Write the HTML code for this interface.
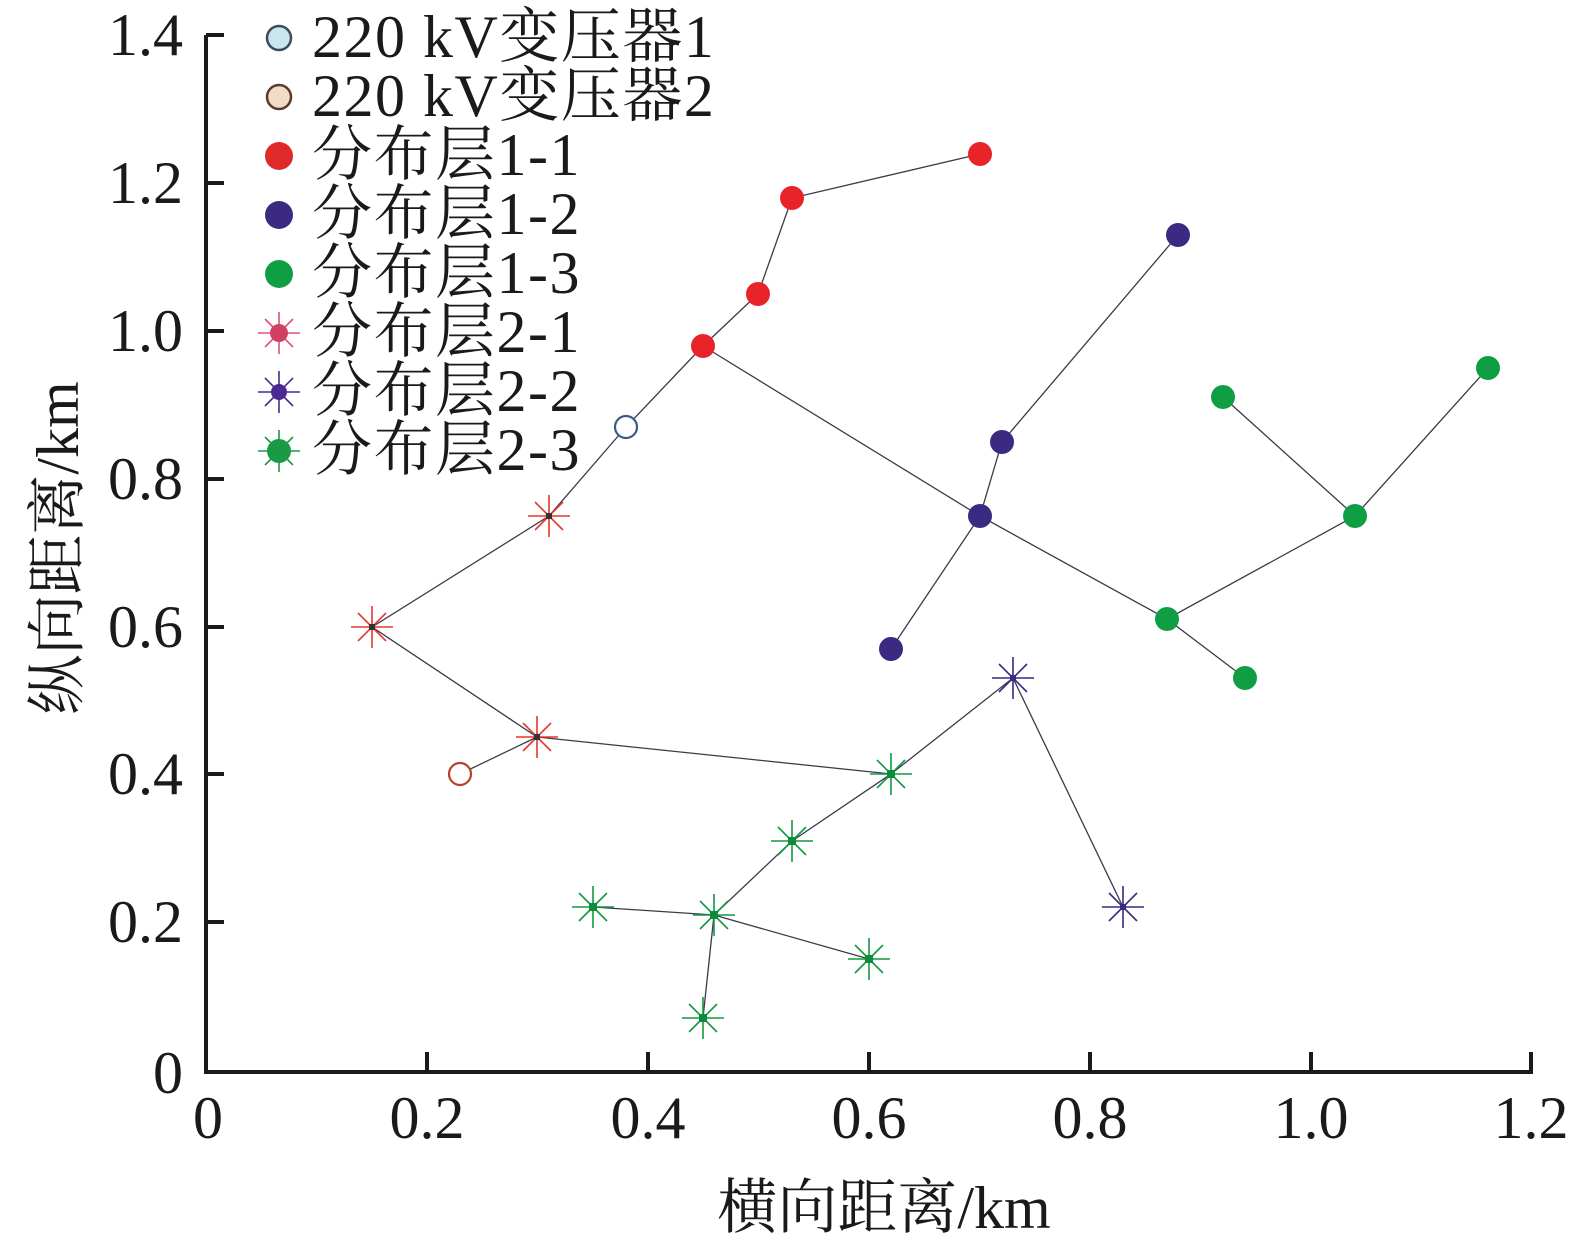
<!DOCTYPE html>
<html><head><meta charset="utf-8"><style>
html,body{margin:0;padding:0;background:#fff;}
svg{display:block;}
text{font-family:"Liberation Serif","Noto Serif CJK SC",serif;fill:#1a1a1a;}
</style></head><body>
<svg width="1583" height="1242" viewBox="0 0 1583 1242" xmlns="http://www.w3.org/2000/svg">
<defs>
<g id="st" stroke-width="1.6">
<line x1="-21" y1="0" x2="21" y2="0"/><line x1="0" y1="-21" x2="0" y2="21"/>
<line x1="-14" y1="-14" x2="14" y2="14"/><line x1="-14" y1="14" x2="14" y2="-14"/>
</g>
</defs>
<g stroke="#1a1a1a" stroke-width="4" fill="none">
<polyline points="206,35 206,1072 1533,1072"/>
<line x1="206" y1="35" x2="224" y2="35"/>
<line x1="206" y1="183" x2="224" y2="183"/>
<line x1="206" y1="331" x2="224" y2="331"/>
<line x1="206" y1="479" x2="224" y2="479"/>
<line x1="206" y1="627" x2="224" y2="627"/>
<line x1="206" y1="774" x2="224" y2="774"/>
<line x1="206" y1="922" x2="224" y2="922"/>
<line x1="427" y1="1072" x2="427" y2="1052"/>
<line x1="648" y1="1072" x2="648" y2="1052"/>
<line x1="869" y1="1072" x2="869" y2="1052"/>
<line x1="1090" y1="1072" x2="1090" y2="1052"/>
<line x1="1311" y1="1072" x2="1311" y2="1052"/>
<line x1="1531" y1="1072" x2="1531" y2="1052"/>
</g>
<g font-size="60" text-anchor="end">
<text x="183" y="55">1.4</text>
<text x="183" y="203">1.2</text>
<text x="183" y="351">1.0</text>
<text x="183" y="499">0.8</text>
<text x="183" y="647">0.6</text>
<text x="183" y="794">0.4</text>
<text x="183" y="942">0.2</text>
<text x="183" y="1093">0</text>
</g>
<g font-size="60" text-anchor="middle">
<text x="208" y="1138">0</text>
<text x="427" y="1138">0.2</text>
<text x="648" y="1138">0.4</text>
<text x="869" y="1138">0.6</text>
<text x="1090" y="1138">0.8</text>
<text x="1311" y="1138">1.0</text>
<text x="1531" y="1138">1.2</text>
<text x="884" y="1228">横向距离/km</text>
<text transform="translate(78,548) rotate(-90)">纵向距离/km</text>
</g>
<g stroke="#3a3a4a" stroke-width="1.3" fill="none">
<polyline points="980,154 792,198 758,294 703,346 626,427 549,516 372,627 537,737 460,774"/>
<polyline points="537,737 891,774 1013,678 1123,907"/>
<polyline points="891,774 792,841 714,915 593,907"/>
<polyline points="714,915 869,959"/>
<polyline points="714,915 703,1018"/>
<polyline points="703,346 980,516 1167,619 1355,516 1488,368"/>
<polyline points="1167,619 1245,678"/>
<polyline points="1223,397 1355,516"/>
<polyline points="1178,235 1002,442 980,516 891,649"/>
</g>
<g fill="#e8232a">
<circle cx="980" cy="154" r="12"/><circle cx="792" cy="198" r="12"/><circle cx="758" cy="294" r="12"/><circle cx="703" cy="346" r="12"/>
</g>
<g fill="#3a2a82">
<circle cx="1178" cy="235" r="12"/><circle cx="1002" cy="442" r="12"/><circle cx="980" cy="516" r="12"/><circle cx="891" cy="649" r="12"/>
</g>
<g fill="#0f9e44">
<circle cx="1488" cy="368" r="12"/><circle cx="1223" cy="397" r="12"/><circle cx="1355" cy="516" r="12"/><circle cx="1167" cy="619" r="12"/><circle cx="1245" cy="678" r="12"/>
</g>
<circle cx="626" cy="427" r="11" fill="#fff" stroke="#3d5a86" stroke-width="2.2"/>
<circle cx="460" cy="774" r="11" fill="#fff" stroke="#b8402a" stroke-width="2.2"/>
<g stroke="#e8362a">
<use href="#st" x="549" y="516"/><use href="#st" x="372" y="627"/><use href="#st" x="537" y="737"/>
</g>
<g fill="#333"><rect x="546" y="513" width="6" height="6"/><rect x="369" y="624" width="6" height="6"/><rect x="534" y="734" width="6" height="6"/></g>
<g stroke="#3a2a82">
<use href="#st" x="1013" y="678"/><use href="#st" x="1123" y="907"/>
</g>
<g fill="#3a2a82"><rect x="1010" y="675" width="6" height="6"/><rect x="1120" y="904" width="6" height="6"/></g>
<g stroke="#109a42">
<use href="#st" x="891" y="774"/><use href="#st" x="792" y="841"/><use href="#st" x="593" y="907"/><use href="#st" x="714" y="915"/><use href="#st" x="869" y="959"/><use href="#st" x="703" y="1018"/>
</g>
<g fill="#0f8a3c"><rect x="887" y="770" width="8" height="8"/><rect x="788" y="837" width="8" height="8"/><rect x="589" y="903" width="8" height="8"/><rect x="710" y="911" width="8" height="8"/><rect x="865" y="955" width="8" height="8"/><rect x="699" y="1014" width="8" height="8"/></g>
<circle cx="279" cy="38" r="12" fill="#c8e6ef" stroke="#3c4a5a" stroke-width="2.5"/>
<circle cx="279" cy="97" r="12" fill="#f2dcc8" stroke="#5a3a2a" stroke-width="2.5"/>
<circle cx="279" cy="156" r="14" fill="#e02a2a"/>
<circle cx="279" cy="215" r="14" fill="#3a2a82"/>
<circle cx="279" cy="274" r="14" fill="#0f9e44"/>
<g stroke="#e0507a" stroke-width="3.5"><use href="#st" x="279" y="333"/></g>
<g stroke="#4a2a92" stroke-width="3.5"><use href="#st" x="279" y="392"/></g>
<g stroke="#1a9a44" stroke-width="5"><use href="#st" x="279" y="451"/></g>
<circle cx="279" cy="333" r="9" fill="#d04060"/>
<circle cx="279" cy="392" r="8" fill="#4a2a92"/>
<circle cx="279" cy="451" r="12" fill="#1a9a44"/>
<g font-size="60" letter-spacing="1.5">
<text x="312" y="57">220 kV变压器1</text>
<text x="312" y="116">220 kV变压器2</text>
<text x="312" y="175">分布层1-1</text>
<text x="312" y="234">分布层1-2</text>
<text x="312" y="293">分布层1-3</text>
<text x="312" y="352">分布层2-1</text>
<text x="312" y="411">分布层2-2</text>
<text x="312" y="470">分布层2-3</text>
</g>
</svg>
</body></html>
